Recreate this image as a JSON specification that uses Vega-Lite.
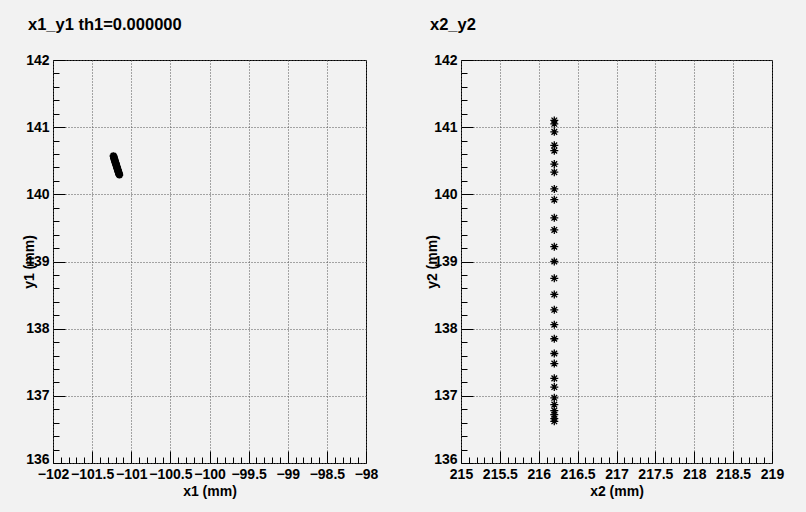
{
  "$schema": "https://vega.github.io/schema/vega-lite/v6.json",
  "autosize": {"type": "pad"},
  "padding": {"left": 21, "top": 16, "right": 21, "bottom": 15},
  "background": "#f2f2f2",
  "bounds": "flush",
  "spacing": 95,
  "datasets": {
    "p1": [
      {"x1": -101.228, "y1": 140.572}, {"x1": -101.224, "y1": 140.560}, {"x1": -101.222, "y1": 140.548},
      {"x1": -101.219, "y1": 140.535}, {"x1": -101.215, "y1": 140.524}, {"x1": -101.213, "y1": 140.512},
      {"x1": -101.209, "y1": 140.500}, {"x1": -101.206, "y1": 140.488}, {"x1": -101.203, "y1": 140.477},
      {"x1": -101.200, "y1": 140.465}, {"x1": -101.196, "y1": 140.453}, {"x1": -101.193, "y1": 140.441},
      {"x1": -101.190, "y1": 140.430}, {"x1": -101.187, "y1": 140.418}, {"x1": -101.184, "y1": 140.406},
      {"x1": -101.180, "y1": 140.394}, {"x1": -101.177, "y1": 140.382}, {"x1": -101.174, "y1": 140.370},
      {"x1": -101.171, "y1": 140.359}, {"x1": -101.167, "y1": 140.347}, {"x1": -101.164, "y1": 140.335},
      {"x1": -101.161, "y1": 140.323}, {"x1": -101.158, "y1": 140.311}, {"x1": -101.155, "y1": 140.300},
      {"x1": -101.151, "y1": 140.290}
    ],
    "p2": [
      {"x2": 216.2, "y2": 141.10}, {"x2": 216.2, "y2": 141.05}, {"x2": 216.2, "y2": 140.93},
      {"x2": 216.2, "y2": 140.73}, {"x2": 216.2, "y2": 140.65}, {"x2": 216.2, "y2": 140.45},
      {"x2": 216.2, "y2": 140.33}, {"x2": 216.2, "y2": 140.08}, {"x2": 216.2, "y2": 139.92},
      {"x2": 216.2, "y2": 139.65}, {"x2": 216.2, "y2": 139.47}, {"x2": 216.2, "y2": 139.22},
      {"x2": 216.2, "y2": 139.00}, {"x2": 216.2, "y2": 138.75}, {"x2": 216.2, "y2": 138.51},
      {"x2": 216.2, "y2": 138.28}, {"x2": 216.2, "y2": 138.06}, {"x2": 216.2, "y2": 137.85},
      {"x2": 216.2, "y2": 137.63}, {"x2": 216.2, "y2": 137.48}, {"x2": 216.2, "y2": 137.26},
      {"x2": 216.2, "y2": 137.13}, {"x2": 216.2, "y2": 136.97}, {"x2": 216.2, "y2": 136.87},
      {"x2": 216.2, "y2": 136.78}, {"x2": 216.2, "y2": 136.72}, {"x2": 216.2, "y2": 136.66},
      {"x2": 216.2, "y2": 136.62}
    ]
  },
  "hconcat": [
    {
      "width": 313,
      "height": 403,
      "data": {"name": "p1"},
      "title": {"text": "x1_y1 th1=0.000000", "anchor": "start", "frame": "group", "dx": -25, "offset": 7, "baseline": "alphabetic", "font": "Liberation Sans", "fontSize": 16.5, "fontWeight": "bold", "color": "black"},
      "mark": {"type": "point", "shape": "M-1,0L1,0M0,-1L0,1M-0.7,-0.7L0.7,0.7M-0.7,0.7L0.7,-0.7", "size": 56, "filled": false, "stroke": "black", "strokeWidth": 2.2, "opacity": 1},
      "encoding": {
        "x": {"field": "x1", "type": "quantitative",
          "scale": {"domain": [-102, -98], "nice": false, "zero": false},
          "axis": {
            "values": [-102, -101.9, -101.8, -101.7, -101.6, -101.5, -101.4, -101.3, -101.2, -101.1, -101, -100.9, -100.8, -100.7, -100.6, -100.5, -100.4, -100.3, -100.2, -100.1, -100, -99.9, -99.8, -99.7, -99.6, -99.5, -99.4, -99.3, -99.2, -99.1, -99, -98.9, -98.8, -98.7, -98.6, -98.5, -98.4, -98.3, -98.2, -98.1, -98],
            "format": "~g",
            "tickSize": {"condition": {"test": "abs(datum.value*2-round(datum.value*2))<0.01", "value": -12}, "value": -6},
            "labelExpr": "abs(datum.value*2-round(datum.value*2))<0.01 ? datum.label : ''",
            "gridOpacity": {"condition": {"test": "abs(datum.value*2-round(datum.value*2))<0.01", "value": 1}, "value": 0},
            "labelPadding": 16,
            "title": "x1 (mm)", "titleY": 28, "titleBaseline": "middle"
          }},
        "y": {"field": "y1", "type": "quantitative",
          "scale": {"domain": [136, 142], "nice": false, "zero": false},
          "axis": {
            "values": [136, 136.2, 136.4, 136.6, 136.8, 137, 137.2, 137.4, 137.6, 137.8, 138, 138.2, 138.4, 138.6, 138.8, 139, 139.2, 139.4, 139.6, 139.8, 140, 140.2, 140.4, 140.6, 140.8, 141, 141.2, 141.4, 141.6, 141.8, 142],
            "format": "~g",
            "tickSize": {"condition": {"test": "abs(datum.value-round(datum.value))<0.01", "value": -12}, "value": -6},
            "labelExpr": "abs(datum.value-round(datum.value))<0.01 ? datum.label : ''",
            "gridOpacity": {"condition": {"test": "abs(datum.value-round(datum.value))<0.01", "value": 1}, "value": 0},
            "labelOffset": {"condition": {"test": "datum.value<136.1", "value": -4}, "value": 0},
            "labelPadding": 16,
            "title": "y1 (mm)", "titleX": -24, "titleY": 201.5, "titleAngle": -90, "titleBaseline": "middle", "titleAlign": "center"
          }}
      }
    },
    {
      "width": 311,
      "height": 403,
      "data": {"name": "p2"},
      "title": {"text": "x2_y2", "anchor": "start", "frame": "group", "dx": -31, "offset": 7, "baseline": "alphabetic", "font": "Liberation Sans", "fontSize": 16.5, "fontWeight": "bold", "color": "black"},
      "mark": {"type": "point", "shape": "M-1,0L1,0M0,-1L0,1M-0.7,-0.7L0.7,0.7M-0.7,0.7L0.7,-0.7", "size": 64, "filled": false, "stroke": "black", "strokeWidth": 1.3, "opacity": 1},
      "encoding": {
        "x": {"field": "x2", "type": "quantitative",
          "scale": {"domain": [215, 219], "nice": false, "zero": false},
          "axis": {
            "values": [215, 215.1, 215.2, 215.3, 215.4, 215.5, 215.6, 215.7, 215.8, 215.9, 216, 216.1, 216.2, 216.3, 216.4, 216.5, 216.6, 216.7, 216.8, 216.9, 217, 217.1, 217.2, 217.3, 217.4, 217.5, 217.6, 217.7, 217.8, 217.9, 218, 218.1, 218.2, 218.3, 218.4, 218.5, 218.6, 218.7, 218.8, 218.9, 219],
            "format": "~g",
            "tickSize": {"condition": {"test": "abs(datum.value*2-round(datum.value*2))<0.01", "value": -12}, "value": -6},
            "labelExpr": "abs(datum.value*2-round(datum.value*2))<0.01 ? datum.label : ''",
            "gridOpacity": {"condition": {"test": "abs(datum.value*2-round(datum.value*2))<0.01", "value": 1}, "value": 0},
            "labelPadding": 16,
            "title": "x2 (mm)", "titleY": 28, "titleBaseline": "middle"
          }},
        "y": {"field": "y2", "type": "quantitative",
          "scale": {"domain": [136, 142], "nice": false, "zero": false},
          "axis": {
            "values": [136, 136.2, 136.4, 136.6, 136.8, 137, 137.2, 137.4, 137.6, 137.8, 138, 138.2, 138.4, 138.6, 138.8, 139, 139.2, 139.4, 139.6, 139.8, 140, 140.2, 140.4, 140.6, 140.8, 141, 141.2, 141.4, 141.6, 141.8, 142],
            "format": "~g",
            "tickSize": {"condition": {"test": "abs(datum.value-round(datum.value))<0.01", "value": -12}, "value": -6},
            "labelExpr": "abs(datum.value-round(datum.value))<0.01 ? datum.label : ''",
            "gridOpacity": {"condition": {"test": "abs(datum.value-round(datum.value))<0.01", "value": 1}, "value": 0},
            "labelOffset": {"condition": {"test": "datum.value<136.1", "value": -4}, "value": 0},
            "labelPadding": 16,
            "title": "y2 (mm)", "titleX": -29, "titleY": 201.5, "titleAngle": -90, "titleBaseline": "middle", "titleAlign": "center"
          }}
      }
    }
  ],
  "config": {
    "view": {"stroke": "black", "strokeWidth": 1, "fill": "#f2f2f2"},
    "axis": {
      "labelFont": "Liberation Sans", "labelFontSize": 14, "labelFontWeight": "bold", "labelColor": "black",
      "titleFont": "Liberation Sans", "titleFontSize": 14, "titleFontWeight": "bold", "titleColor": "black",
      "domain": false, "tickColor": "black", "tickWidth": 1,
      "gridColor": "#555", "gridDash": [1, 2], "gridWidth": 1,
      "labelOverlap": false, "labelFlush": false
    }
  }
}
